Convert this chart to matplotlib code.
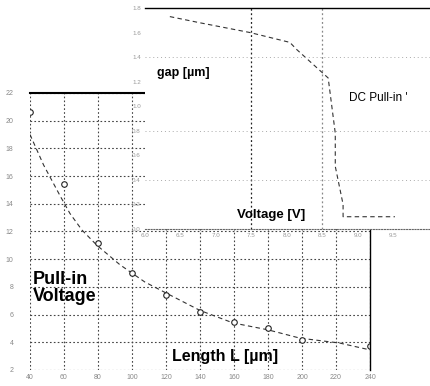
import matplotlib.pyplot as plt

# main plot: pull-in voltage vs beam length
length_um = [40, 60, 80, 100, 120, 140, 160, 180, 200, 240]
pullin_v = [20.6, 15.4, 11.2, 9.0, 7.4, 6.2, 5.5, 5.0, 4.2, 3.7]

fit_len = [40, 48, 57.6, 63.5, 70.6, 79.4, 92.9, 107.6, 119.4, 140, 159.4, 180, 198.8, 222, 240]
fit_v = [19.0, 16.8, 14.6, 13.3, 12.1, 11.0, 9.6, 8.35, 7.6, 6.3, 5.4, 4.9, 4.3, 3.95, 3.45]

# inset: gap vs voltage
inset_v = [6.35, 6.77, 7.48, 8.04, 8.14, 8.58, 8.68, 8.68, 8.79, 8.79, 9.52]
inset_gap = [1.73, 1.68, 1.60, 1.52, 1.46, 1.23, 0.78, 0.51, 0.20, 0.10, 0.10]

main_xticks = [40, 60, 80, 100, 120, 140, 160, 180, 200, 220, 240]
main_yticks = [2, 4, 6, 8, 10, 12, 14, 16, 18, 20, 22]
inset_xticks = [6, 6.5, 7, 7.5, 8, 8.5, 9, 9.5]
inset_yticks = [0, 0.2, 0.4, 0.6, 0.8, 1.0, 1.2, 1.4, 1.6, 1.8]

plt.rcParams['font.family'] = ['Liberation Sans', 'DejaVu Sans']

fig = plt.figure(figsize=(4.3, 3.86), dpi=100)

# main axes
ax = fig.add_axes([30/430, 1-370/386, 340/430, 277/386])
ax.plot(fit_len, fit_v, color='#333333', linestyle=(0, (4, 3)), linewidth=0.8)
ax.plot(length_um, pullin_v, linestyle='none', marker='o', markersize=4,
        markerfacecolor='white', markeredgecolor='#222222', markeredgewidth=0.8)
ax.set_xlim(40, 240)
ax.set_ylim(2, 22)
ax.set_xticks(main_xticks)
ax.set_yticks(main_yticks)
ax.tick_params(axis='x', labelsize=5, colors='#888888', length=0, pad=3)
ax.tick_params(axis='y', labelsize=5, colors='#888888', length=0, pad=12)
ax.grid(True, color='#444444', linestyle=(0, (1.5, 2)), linewidth=0.8)
for s in ['left', 'bottom']:
    ax.spines[s].set_visible(False)
ax.spines['top'].set_linewidth(1.5)
ax.spines['right'].set_linewidth(1.0)

ax.text(41.5, 7.9, 'Pull-in\nVoltage', fontsize=13, fontweight='bold',
        ha='left', va='center', linespacing=1.0)
ax.text(123.5, 2.95, 'Length L [µm]', fontsize=11.5, fontweight='bold',
        ha='left', va='center')

# inset axes
ins = fig.add_axes([145/430, 1-229/386, 292/430, 221/386])
ins.set_facecolor('white')
ins.plot(inset_v, inset_gap, color='#333333', linestyle=(0, (4, 3)), linewidth=0.8)
ins.set_xlim(6, 6 + 292/71)
ins.set_ylim(0, 1.8)
ins.set_xticks(inset_xticks)
ins.set_yticks(inset_yticks)
ins.tick_params(labelsize=4.5, colors='#999999', length=0, pad=3)
ins.spines['left'].set_visible(False)
ins.spines['right'].set_visible(False)
ins.spines['top'].set_linewidth(1.0)
ins.spines['bottom'].set_linestyle((0, (1, 1.5)))
ins.spines['bottom'].set_color('#666666')
for gx, c in [(7.5, '#222222'), (8.5, '#888888')]:
    ins.axvline(gx, color=c, linestyle=(0, (1.5, 2)), linewidth=0.9)
for gy in [0.4, 0.8, 1.4]:
    ins.axhline(gy, color='#aaaaaa', linestyle=(0, (1, 3)), linewidth=0.7)

ins.text(6.17, 1.27, 'gap [µm]', fontsize=9, fontweight='bold', ha='left', va='center')
ins.text(7.3, 0.11, 'Voltage [V]', fontsize=9.5, fontweight='bold', ha='left', va='center')
ins.text(8.87, 1.07, "DC Pull-in '", fontsize=8.5, ha='left', va='center')

fig.savefig('out.png', dpi=100)
